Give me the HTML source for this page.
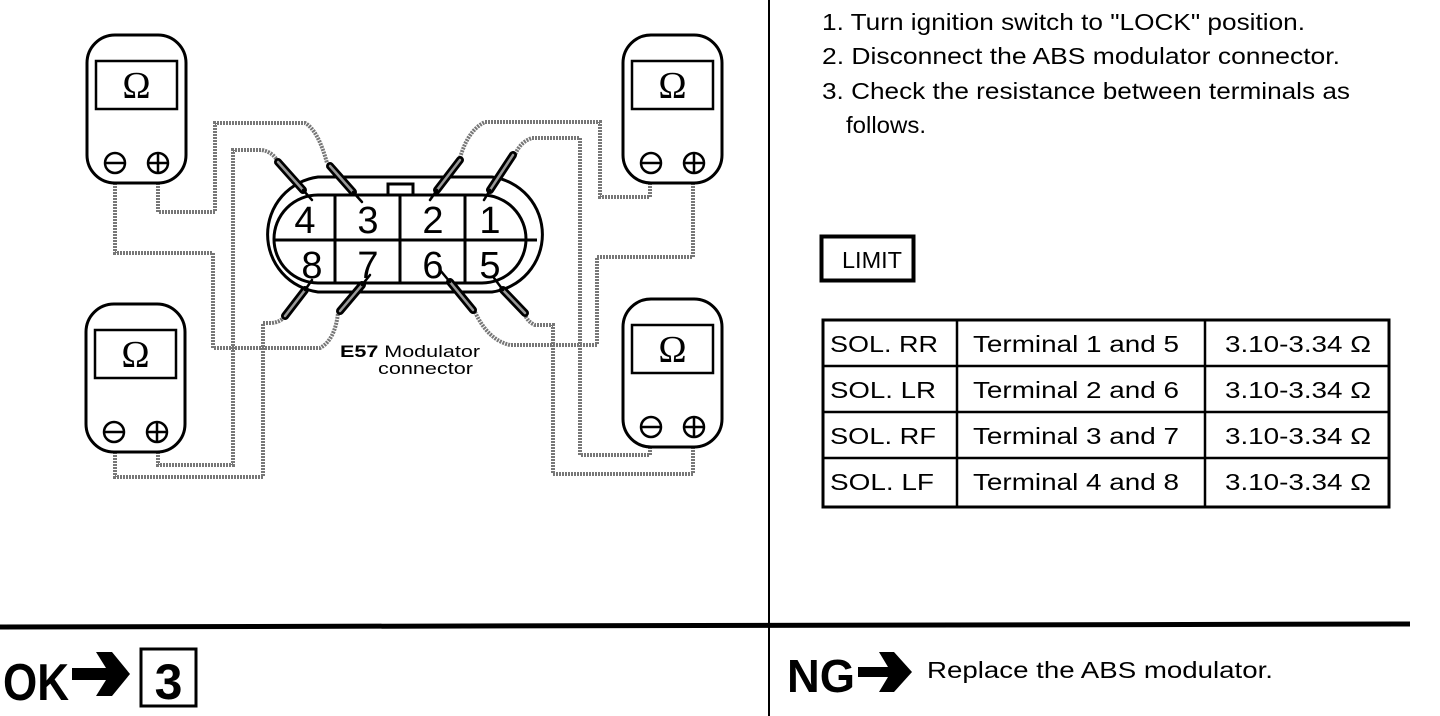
<!DOCTYPE html>
<html><head><meta charset="utf-8"><style>
body{margin:0;width:1440px;height:716px;background:#fff;overflow:hidden;font-family:"Liberation Sans",sans-serif}
svg{position:absolute;left:0;top:0}
</style></head><body>
<svg width="1440" height="716" viewBox="0 0 1440 716">
<defs>
<g id="meter">
<rect x="0" y="0" width="99" height="148" rx="28" fill="#fff" stroke="#000" stroke-width="3"/>
<rect x="9" y="26" width="81" height="48" fill="#fff" stroke="#000" stroke-width="2.5"/>
<text x="49.5" y="63" font-family="Liberation Serif,serif" font-size="38" text-anchor="middle">Ω</text>
<circle cx="28" cy="128" r="10" fill="none" stroke="#000" stroke-width="2.5"/>
<line x1="18" y1="128" x2="38" y2="128" stroke="#000" stroke-width="2.5"/>
<circle cx="71" cy="128" r="10" fill="none" stroke="#000" stroke-width="2.5"/>
<line x1="61" y1="128" x2="81" y2="128" stroke="#000" stroke-width="2.5"/>
<line x1="71" y1="118" x2="71" y2="138" stroke="#000" stroke-width="2.5"/>
</g>
</defs>
<g fill="none" stroke="#777" stroke-width="4" stroke-dasharray="2 1">
<path d="M115,183 V253 H213 V348 H320 Q335,340 338,313"/>
<path d="M158,183 V212 H215 V123 H305 Q318,130 327,163"/>
<path d="M158,452 V465 H233 V150 H262 Q272,152 277,160"/>
<path d="M115,452 V477 H263 V323 H272 Q280,322 283,318"/>
<path d="M650,183 V197 H600 V122 H485 Q468,130 460,158"/>
<path d="M693,183 V257 H597 V345 H510 Q488,340 475,312"/>
<path d="M650,447 V455 H580 V138 H532 Q520,142 515,155"/>
<path d="M693,447 V474 H553 V325 H535 Q528,322 525,315"/>
</g>
<g fill="none" stroke="#000" stroke-width="3">
<path d="M318,177 H492 A58,58 0 0 1 492,292 H318 A58,58 0 0 1 318,177 Z"/>
<path d="M318,195 H482 A44,44 0 0 1 482,283 H318 A44,44 0 0 1 318,195 Z"/>
<line x1="274" y1="240" x2="537" y2="240"/>
<line x1="335" y1="195" x2="335" y2="283"/>
<line x1="400" y1="195" x2="400" y2="283"/>
<line x1="465" y1="195" x2="465" y2="283"/>
<rect x="388" y="184" width="25" height="11" fill="#fff"/>
</g>
<g font-size="38" text-anchor="middle">
<text x="305" y="233">4</text><text x="368" y="233">3</text><text x="433" y="233">2</text><text x="490" y="233">1</text>
<text x="312" y="278">8</text><text x="368" y="278">7</text><text x="433" y="278">6</text><text x="490" y="278">5</text>
</g>
<g stroke-linecap="round">
<g stroke="#000" stroke-width="8">
<line x1="278" y1="162" x2="303" y2="190"/><line x1="330" y1="166" x2="353" y2="192"/>
<line x1="460" y1="160" x2="437" y2="190"/><line x1="513" y1="155" x2="490" y2="190"/>
<line x1="285" y1="316" x2="305" y2="290"/><line x1="340" y1="311" x2="362" y2="285"/>
<line x1="473" y1="310" x2="450" y2="282"/><line x1="525" y1="313" x2="503" y2="290"/>
</g>
<g stroke="#999" stroke-width="2.5">
<line x1="278" y1="162" x2="303" y2="190"/><line x1="330" y1="166" x2="353" y2="192"/>
<line x1="460" y1="160" x2="437" y2="190"/><line x1="513" y1="155" x2="490" y2="190"/>
<line x1="285" y1="316" x2="305" y2="290"/><line x1="340" y1="311" x2="362" y2="285"/>
<line x1="473" y1="310" x2="450" y2="282"/><line x1="525" y1="313" x2="503" y2="290"/>
</g>
<g stroke="#000" stroke-width="2.5">
<line x1="303" y1="190" x2="312" y2="200"/><line x1="353" y1="192" x2="362" y2="202"/>
<line x1="437" y1="190" x2="430" y2="200"/><line x1="490" y1="190" x2="484" y2="200"/>
<line x1="305" y1="290" x2="312" y2="280"/><line x1="362" y1="285" x2="370" y2="275"/>
<line x1="450" y1="282" x2="440" y2="270"/><line x1="503" y1="290" x2="494" y2="278"/>
</g>
</g>
<use href="#meter" x="87" y="35"/>
<use href="#meter" x="86" y="304"/>
<use href="#meter" x="623" y="35"/>
<use href="#meter" x="623" y="299"/>
<text x="340" y="357" font-size="17" textLength="140" lengthAdjust="spacingAndGlyphs"><tspan font-weight="bold">E57</tspan> Modulator</text>
<text x="378" y="374" font-size="17" textLength="95" lengthAdjust="spacingAndGlyphs">connector</text>
<line x1="769" y1="0" x2="769" y2="716" stroke="#000" stroke-width="2"/>
<line x1="0" y1="627" x2="1410" y2="624" stroke="#000" stroke-width="5"/>
<g font-size="23">
<text x="822" y="30" textLength="483" lengthAdjust="spacingAndGlyphs">1. Turn ignition switch to "LOCK" position.</text>
<text x="822" y="64" textLength="518" lengthAdjust="spacingAndGlyphs">2. Disconnect the ABS modulator connector.</text>
<text x="822" y="99" textLength="528" lengthAdjust="spacingAndGlyphs">3. Check the resistance between terminals as</text>
<text x="846" y="133" textLength="80" lengthAdjust="spacingAndGlyphs">follows.</text>
</g>
<rect x="821.5" y="236.5" width="92" height="44" fill="none" stroke="#000" stroke-width="4"/>
<text x="842" y="268" font-size="23" textLength="60" lengthAdjust="spacingAndGlyphs">LIMIT</text>
<g fill="none" stroke="#000" stroke-width="2.5">
<rect x="823" y="320" width="566" height="187" stroke-width="3"/>
<line x1="823" y1="366" x2="1389" y2="366"/><line x1="823" y1="412" x2="1389" y2="412"/><line x1="823" y1="458" x2="1389" y2="458"/>
<line x1="957" y1="320" x2="957" y2="507"/><line x1="1205" y1="320" x2="1205" y2="507"/>
</g>
<g font-size="23">
<text x="830" y="352" textLength="108" lengthAdjust="spacingAndGlyphs">SOL. RR</text><text x="973" y="352" textLength="206" lengthAdjust="spacingAndGlyphs">Terminal 1 and 5</text><text x="1225" y="352" textLength="146" lengthAdjust="spacingAndGlyphs">3.10-3.34 Ω</text>
<text x="830" y="398" textLength="106" lengthAdjust="spacingAndGlyphs">SOL. LR</text><text x="973" y="398" textLength="206" lengthAdjust="spacingAndGlyphs">Terminal 2 and 6</text><text x="1225" y="398" textLength="146" lengthAdjust="spacingAndGlyphs">3.10-3.34 Ω</text>
<text x="830" y="444" textLength="106" lengthAdjust="spacingAndGlyphs">SOL. RF</text><text x="973" y="444" textLength="206" lengthAdjust="spacingAndGlyphs">Terminal 3 and 7</text><text x="1225" y="444" textLength="146" lengthAdjust="spacingAndGlyphs">3.10-3.34 Ω</text>
<text x="830" y="490" textLength="104" lengthAdjust="spacingAndGlyphs">SOL. LF</text><text x="973" y="490" textLength="206" lengthAdjust="spacingAndGlyphs">Terminal 4 and 8</text><text x="1225" y="490" textLength="146" lengthAdjust="spacingAndGlyphs">3.10-3.34 Ω</text>
</g>
<text x="3" y="700" font-size="52" font-weight="bold" textLength="66" lengthAdjust="spacingAndGlyphs">OK</text>
<path d="M72,668 H106 L96,652 H112 L130,674 L112,696 H96 L106,680 H72 Z" fill="#000"/>
<rect x="141" y="649" width="55" height="57" fill="none" stroke="#000" stroke-width="3"/>
<text x="168.5" y="699" font-size="50" font-weight="bold" text-anchor="middle">3</text>
<text x="787" y="692" font-size="46" font-weight="bold" textLength="68" lengthAdjust="spacingAndGlyphs">NG</text>
<path d="M858,667 H888 L879,652 H894 L912,672 L894,692 H879 L888,677 H858 Z" fill="#000"/>
<text x="927" y="678" font-size="23" textLength="346" lengthAdjust="spacingAndGlyphs">Replace the ABS modulator.</text>
</svg>
</body></html>
